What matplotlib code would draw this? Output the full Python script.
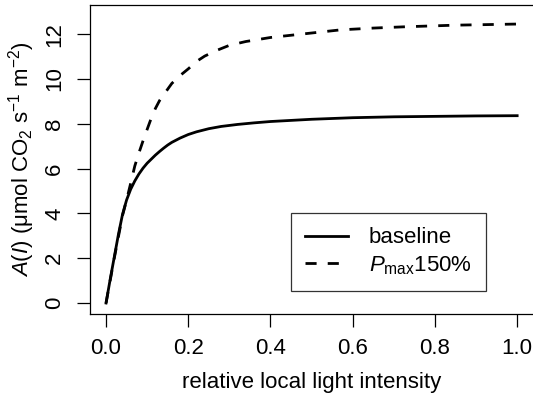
import matplotlib
matplotlib.use("Agg")
import matplotlib.pyplot as plt

plt.rcParams["font.family"] = ["Liberation Sans", "DejaVu Sans"]
plt.rcParams["mathtext.fontset"] = "custom"
plt.rcParams["mathtext.rm"] = "Liberation Sans"
plt.rcParams["mathtext.it"] = "Liberation Sans:italic"
plt.rcParams["mathtext.default"] = "regular"

# values
base_x = [0, 0.01, 0.02, 0.03, 0.04, 0.05, 0.06, 0.07, 0.08, 0.09, 0.10, 0.11, 0.12, 0.13, 0.14, 0.15,
          0.16, 0.18, 0.20, 0.22, 0.25, 0.28, 0.32, 0.36, 0.40, 0.50, 0.60, 0.70, 0.80, 0.90, 1.0]
base_y = [0, 1.05, 2.05, 3.05, 3.95, 4.6, 5.08, 5.45, 5.76, 6.02, 6.24, 6.42, 6.6, 6.76, 6.91, 7.05,
          7.17, 7.36, 7.52, 7.64, 7.78, 7.88, 7.97, 8.04, 8.1, 8.2, 8.27, 8.31, 8.33, 8.35, 8.36]

pmax_x = [0, 0.02, 0.04, 0.05, 0.06, 0.07, 0.08, 0.09, 0.10, 0.11, 0.12, 0.13, 0.14, 0.16, 0.18,
          0.20, 0.22, 0.24, 0.27, 0.30, 0.34, 0.40, 0.45, 0.50, 0.57, 0.65, 0.73, 0.85, 1.0]
pmax_y = [0, 2.0, 3.9, 4.6, 5.35, 6.12, 6.7, 7.24, 7.75, 8.25, 8.68, 9.03, 9.29, 9.8, 10.15,
          10.45, 10.78, 11.02, 11.28, 11.5, 11.67, 11.85, 11.95, 12.05, 12.19, 12.27, 12.33, 12.4, 12.45]

xticks = [0.0, 0.2, 0.4, 0.6, 0.8, 1.0]
yticks = [0, 2, 4, 6, 8, 10, 12]

fig = plt.figure(figsize=(5.33, 4.01), dpi=100)
ax = fig.add_axes([89.6 / 533, 87 / 401, 444 / 533, 309 / 401])

ax.plot(base_x, base_y, color="black", lw=2, label="baseline")
ax.plot(pmax_x, pmax_y, color="black", lw=2, dashes=(4, 4), label=r"$\mathit{P}_{\mathrm{max}}$150%")

ax.set_xlim(-0.04, 1.04)
ax.set_ylim(-0.49, 13.3)
ax.set_xticks(xticks)
ax.set_xticklabels(["0.0", "0.2", "0.4", "0.6", "0.8", "1.0"])
ax.set_yticks(yticks)
ax.set_yticklabels([str(v) for v in yticks], rotation=90, va="center")
ax.tick_params(direction="out", length=9.5, width=0.9, labelsize=16, pad=8)
for s in ax.spines.values():
    s.set_linewidth(0.9)

ax.set_xlabel("relative local light intensity", fontsize=16, labelpad=9)
ax.set_ylabel(r"$\mathit{A}$($\mathit{I}$) (μmol CO$_2$ s$^{-1}$ m$^{-2}$)", fontsize=16, labelpad=5)

leg = ax.legend(loc="upper left", bbox_to_anchor=(291 / 533, 1 - 213 / 401),
                bbox_transform=fig.transFigure, fontsize=16, frameon=True,
                fancybox=False, edgecolor="black", handlelength=1.9,
                handletextpad=0.95, labelspacing=0.25, borderpad=0.65, borderaxespad=0)
leg.get_frame().set_linewidth(0.9)

fig.savefig("out.png", dpi=100)
